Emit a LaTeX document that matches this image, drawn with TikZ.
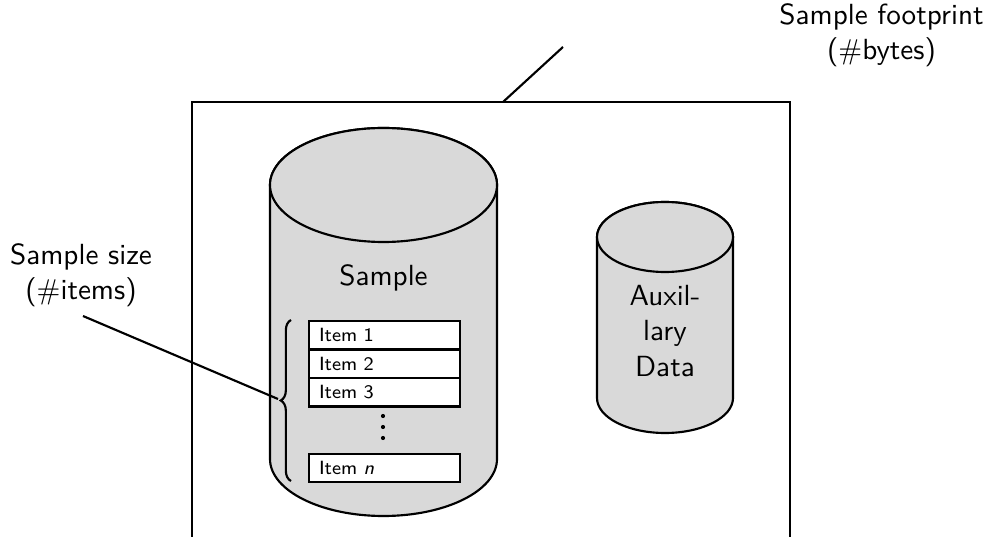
\documentclass[tikz,border=0pt]{standalone}
\usetikzlibrary{decorations.pathreplacing}
\definecolor{cylfill}{RGB}{217,217,217}
\begin{document}
\begin{tikzpicture}[x=0.35pt,y=-0.35pt,
  every node/.style={font=\sffamily\fontsize{10.2}{12.3}\selectfont},
  outline/.style={line width=0.75pt},
  cylbody/.style={outline,fill=cylfill},
  itembox/.style={outline,fill=white,draw,minimum width=151*0.35pt,
    minimum height=28.5*0.35pt,inner xsep=3.5pt,inner ysep=0pt,anchor=north west,
    text width=151*0.35pt-7pt,align=left,font=\sffamily\fontsize{6.7}{8}\selectfont},
  label/.style={align=center,inner sep=1pt},
  pointer/.style={line width=0.75pt}]
\useasboundingbox (0,0) rectangle (985,537);

% open-bottomed storage box
\coordinate (boxbl) at (192,537);
\coordinate (boxtl) at (192,102);
\coordinate (boxtr) at (790,102);
\coordinate (boxbr) at (790,537);
\draw[outline] (boxbl) -- (boxtl) -- (boxtr) -- (boxbr);

% main sample cylinder
\draw[cylbody] (270,185) -- (270,459)
  arc[start angle=180,end angle=0,x radius=113.5,y radius=57]
  -- (497,185)
  arc[start angle=0,end angle=-180,x radius=113.5,y radius=57] -- cycle;
\draw[cylbody] (383.5,185) ellipse (113.5 and 57);
\node (sample) at (383.5,278) {Sample};

% auxiliary data cylinder
\draw[cylbody] (597,237) -- (597,398)
  arc[start angle=180,end angle=0,x radius=68,y radius=35]
  -- (733,237)
  arc[start angle=0,end angle=-180,x radius=68,y radius=35] -- cycle;
\draw[cylbody] (665,237) ellipse (68 and 35);
\node[label] (aux) at (665,331) {Auxil-\\lary\\Data};

% items stored in the sample
\node[itembox] (item1) at (308,320) {Item 1};
\node[itembox] (item2) at (308,348.5) {Item 2};
\node[itembox] (item3) at (308,377) {Item 3};
\node[itembox] (itemn) at (308,452.5) {Item \textit{n}};
\foreach \yy in {416,427,438} \fill (383,\yy) circle (2.1);

% brace grouping the items
\coordinate (bracebot) at (291,481);
\coordinate (bracetop) at (291,320);
\draw[outline,decorate,decoration={brace,amplitude=3.6pt}]
  (bracebot) -- (bracetop);
\coordinate (bracetip) at (278,399);

% labels and their pointers
\node[label] (ssize) at (81,275) {Sample size\\($\#$items)};
\draw[pointer] (83,316) -- (bracetip);

\node[label] (fprint) at (881.5,35.5) {Sample footprint\\($\#$bytes)};
\coordinate (fpend) at (563,47);
\coordinate (fpbox) at (503,102);
\draw[pointer] (fpend) -- (fpbox);
\end{tikzpicture}
\end{document}
